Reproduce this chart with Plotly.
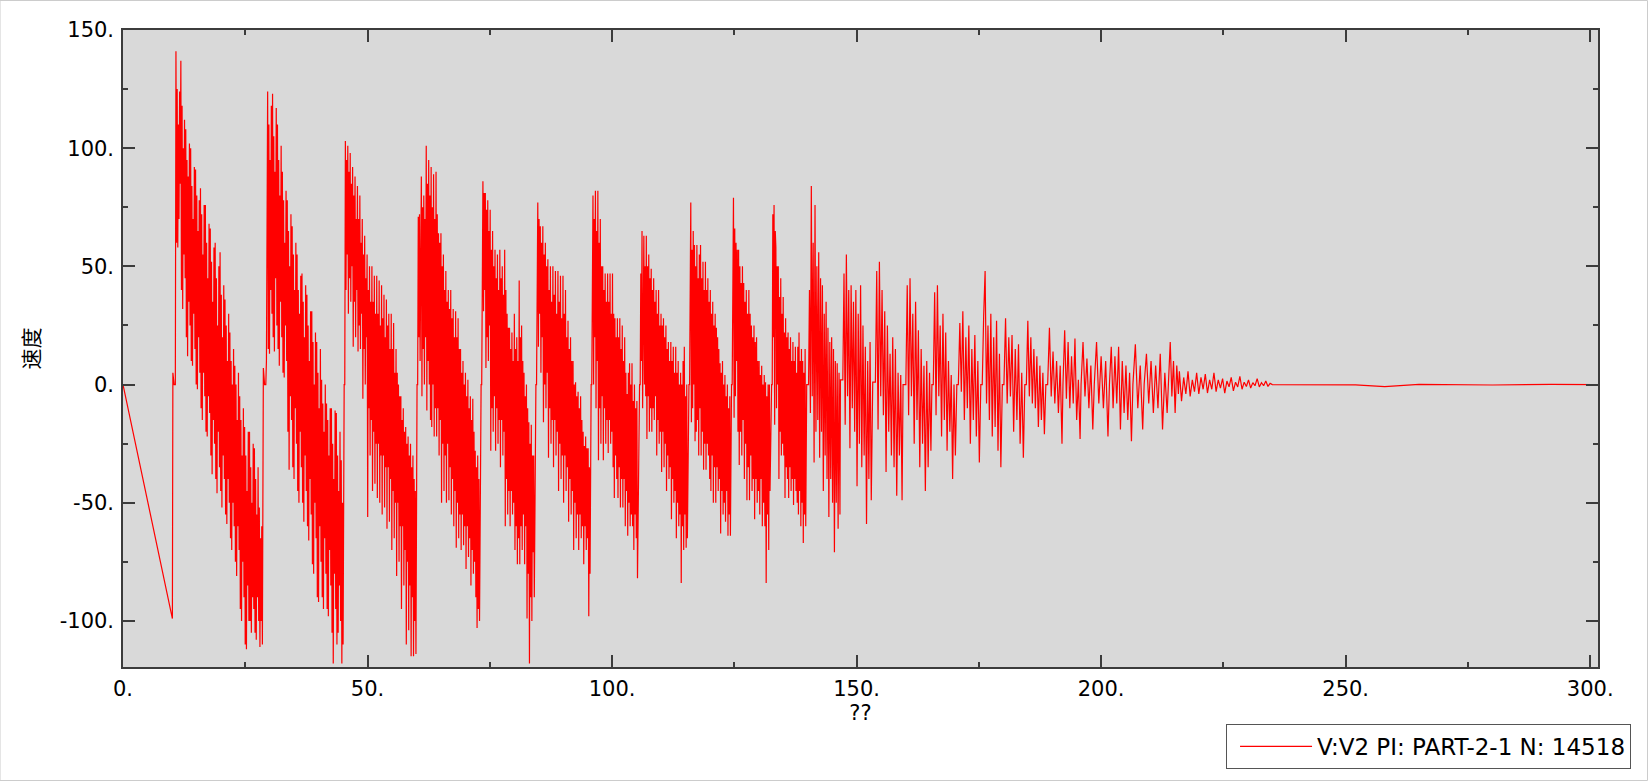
import numpy as np
import plotly.graph_objects as go

# ---------------- data ----------------
series_name = "V:V2 PI: PART-2-1 N: 14518"
x_title = "??"
y_title = "速度"

x_tick_vals = [0, 50, 100, 150, 200, 250, 300]
x_tick_text = ["0.", "50.", "100.", "150.", "200.", "250.", "300."]
y_tick_vals = [-100, -50, 0, 50, 100, 150]
y_tick_text = ["-100.", "-50.", "0.", "50.", "100.", "150."]

lead_t = [0.0, 10.1]
lead_v = [0.0, -99.0]

burst_start = [10.2, 28.7, 45.1, 60.0, 73.1, 84.3, 95.6, 105.5, 115.6, 124.3,
               132.5, 139.8, 146.7, 153.3, 159.5, 165.4, 170.5, 175.4, 179.8,
               184.4, 188.7, 192.2, 195.9, 198.6, 201.7, 206.5, 208.8, 213.8, 216.0]
burst_end = [28.5, 45.0, 59.9, 72.9, 84.1, 95.5, 105.2, 115.4, 124.2, 132.3,
             139.6, 146.6, 153.0, 159.3, 165.2, 170.2, 175.1, 179.5, 184.1,
             188.4, 192.0, 195.7, 198.3, 201.4, 206.2, 208.5, 213.5, 215.8, 235.0]

b01 = [5, 2, 0, 0, 0,
       141, 60, 125, 58, 110, 70, 124, 85,
       137, 40, 118, 32, 100, 55, 112, 45,
       108, 20, 95, 12, 88, 35, 102, 25,
       100, 10, 84, 8, 70, 30, 92, 15,
       91, 0, 80, -2, 65, 20, 78, 5,
       83, -10, 72, -15, 55, 5, 76, -5,
       76, -20, 60, -22, 45, -5, 68, -12,
       66, -30, 52, -38, 35, -15, 58, -25,
       60, -40, 45, -46, 25, -20, 50, -35,
       56, -45, 38, -52, 20, -30, 42, -40,
       36, -55, 25, -59, 10, -40, 30, -50,
       22, -65, 10, -70, 0, -50, 15, -60,
       8, -75, 0, -81, -15, -60, 5, -70,
       -5, -95, -15, -100, -30, -75, -10, -90,
       -18, -110, -30, -112, -45, -85, -20, -100,
       -20, -100, -35, -105, -50, -90, -25, -95,
       -27, -105, -40, -108, -55, -90, -35, -100,
       -52, -111, -65, -100, -60, -110]
b02 = [7, 1, 0, 0, 0, 10, 60,
       124, 15, 110, 13, 95, 40, 118, 30,
       123, 20, 105, 14, 90, 45, 117, 25,
       110, 15, 95, 8, 80, 35, 101, 20,
       90, 5, 78, 3, 60, 25, 82, 10,
       78, -20, 65, -36, 50, -5, 72, -15,
       67, -35, 55, -40, 40, -10, 60, -25,
       55, -45, 40, -50, 30, -20, 46, -35,
       47, -50, 35, -58, 20, -30, 42, -45,
       38, -60, 25, -66, 10, -40, 31, -55,
       31, -76, 18, -80, 0, -50, 22, -65,
       18, -90, 5, -92, -10, -60, 15, -75,
       2, -90, -8, -95, -20, -65, 0, -80,
       -8, -95, -15, -98, -30, -70, -10, -85,
       -10, -105, -25, -118, -40, -80, -11, -95,
       -12, -110, -30, -105, -45, -85, -20, -100,
       -32, -118, -50, -110]
b03 = [0, 0, 0,
       103, 40, 95, 55,
       101, 30, 90, 45, 98, 35, 85, 50,
       92, 16, 80, 35, 88, 20, 70, 40,
       84, 14, 70, 25, 80, 15, 60, 30,
       70, -6, 55, 15, 63, 0, 45, 20,
       55, -56, 40, -10, 50, -30, 35, -15,
       50, -45, 35, -20, 46, -42, 30, -25,
       46, -48, 30, -25, 44, -50, 25, -30,
       42, -55, 28, -30, 38, -52, 20, -35,
       36, -61, 25, -35, 30, -58, 15, -40,
       30, -70, 15, -45, 26, -65, 5, -50,
       15, -81, 5, -50, 0, -75, -5, -60,
       -5, -95, -15, -60, -10, -85, -20, -70,
       -18, -110, -25, -75, -22, -104, -30, -85,
       -25, -115, -35, -90, -30, -115, -40, -100,
       -45, -114]
b04 = [0, 0, 0, 71,
       20, 72, 10, 65,
       88, -5, 75, 15, 80, 0, 70, 20,
       101, -11, 85, 10, 95, 0, 80, -15,
       92, -18, 75, 0, 89, -22, 70, -10,
       90, -22, 72, -10, 64, -30, 60, -15,
       64, -50, 50, -25, 55, -45, 40, -30,
       48, -50, 35, -25, 40, -49, 32, -35,
       40, -55, 28, -40, 32, -60, 20, -45,
       31, -69, 20, -50, 28, -65, 15, -55,
       15, -70, 5, -55, 10, -68, 0, -60,
       5, -78, -5, -60, 2, -73, -10, -65,
       -5, -85, -15, -70, -6, -80, -20, -75,
       -28, -90, -35, -103, -30, -95, -40, -100]
b05 = [0, 0, 0, 71,
       86, 31, 81, 40,
       81, 7, 74, 20, 78, 10, 65, 25,
       74, -28, 57, -10, 65, -20, 50, -5,
       57, -28, 45, -10, 55, -25, 40, -15,
       57, -35, 45, -15, 50, -30, 38, -20,
       57, -60, 40, -40, 30, -55, 24, -45,
       24, -60, 15, -45, 22, -55, 10, -50,
       30, -70, 15, -60, 20, -76, 10, -65,
       44, -76, 20, -60, 25, -70, 10, -55,
       5, -76, -5, -60, 0, -99, -10, -80,
       -16, -118, -25, -90, -17, -100, -30, -71,
       -30, -90]
b06 = [0, 0, 0, 71,
       77, 16, 70, 30,
       67, 5, 60, 20,
       67, -16, 55, 0, 60, -10, 50, 5,
       53, -31, 40, -10, 50, -25, 35, -15,
       50, -35, 38, -15, 48, -30, 30, -20,
       48, -45, 35, -25, 46, -40, 28, -30,
       46, -50, 30, -30, 40, -45, 20, -35,
       27, -58, 15, -40, 20, -55, 10, -45,
       10, -70, 0, -50, 1, -65, -5, -55,
       -3, -70, -10, -55, -5, -65, -15, -60,
       -20, -76, -26, -60, -22, -70, -27, -65,
       -27, -98, -35, -80]
b07 = [0, 0, 0, 60,
       80, 0, 70, 20, 82, -10, 65, 10,
       82, -32, 60, -10, 70, -25, 50, -5,
       50, -32, 40, -10, 47, -25, 35, -15,
       47, -29, 35, -15, 47, -25, 30, -20,
       47, -35, 30, -48, 28, -30, 20, -40,
       28, -48, 20, -35, 28, -52, 15, -40,
       25, -52, 10, -40, 20, -60, 5, -45,
       -4, -64, 5, -50, 9, -60, 0, -55,
       9, -60, -7, -70, 0, -55, -10, -65,
       -7, -82]
b08 = [0, 0, 0, 47,
       10, 65, -10, 55, 63, 0, 50, -5,
       63, -23, 50, -5, 55, -20, 45, -10,
       49, -20, 40, -10, 45, -15, 35, -5,
       40, -30, 30, -15, 40, -25, 25, -20,
       30, -37, 25, -20, 28, -35, 20, -25,
       25, -45, 15, -30, 18, -40, 10, -35,
       18, -57, 10, -40, 16, -50, 5, -45,
       16, -65, 5, -50, 10, -60, 0, -55,
       5, -84, 0, -60, 10, -70, 16, -55,
       -5, -69, 0, -65]
b09 = [0, 0, 0, 50,
       77, -16, 57, -10, 65, 0, 59, -24,
       50, -20, 59, -15, 45, -30, 55, -10,
       59, -30, 45, -20, 52, -36, 40, -25,
       52, -36, 40, -25, 45, -30, 35, -40,
       40, -45, 30, -30, 35, -50, 25, -35,
       30, -50, 24, -35, 20, -45, 15, -40,
       9, -63, 5, -45, 10, -55, 0, -50,
       4, -58, -5, -45, 0, -64, -10, -55,
       -5, -64]
b10 = [0, 0, 0, 50,
       79, -14, 66, -5,
       60, 10, 57, -20,
       57, -34, 50, -20, 43, -30, 50, -15,
       43, -40, 35, -25, 40, -49, 30, -35,
       40, -49, 30, -30, 25, -45, 20, -40,
       25, -57, 18, -40, 20, -50, 10, -45,
       10, -55, 4, -40, 8, -60, 0, -50,
       4, -60, 1, -84, -5, -55, 0, -70,
       0, -45]
b11 = [0, 0, 0, 72,
       20, 76, -17, 65, 58, -10, 50, 0,
       50, -40, 37, -20, 45, -30, 30, -25,
       37, -30, 22, -48, 28, -35, 20, -40,
       22, -48, 15, -35, 20, -45, 10, -40,
       18, -51, 10, -40, 16, -45, 5, -50,
       16, -55, 22, -45, 10, -60, 15, -50,
       10, -67, 5, -55, 15, -60]
b12 = [0, 0, 0, 40, -12, 84, -5, 60, -33, 76, -20, 50, -15, 56, -31, 45, -20, 42,
       -45, 30, -30, 35, -40, 24, -56, 18, -40, 20, -50, 15, -71, 10, -50, 9, -61, 5, -55]
b13 = [2, 2, 2, 47, -17, 55, -5, 40, -27, 42, -10, 35, -20, 40, -43, 30, -25, 42, -35,
       25, -30, 16, -59, 10, -40, 18, -49]
b14 = [1, 1, 1, 48, -19, 52, -5, 40, -13, 31, -37, 25, -20, 13, -30, 20, -35, 15, -47,
       5, -30, 4, -49]
b15 = [0, 0, 0, 42, -13, 45, -5, 30, -25, 35, -15, 23, -35, 15, -25, 8, -45, 10, -35, 5, -28]
b16 = [0, 0, 39, -13, 42, -5, 25, -22, 30, -15, 22, -28, 10, -20, 4, -40, 0, -30]
b17 = [0, 0, 26, -3, 31, -15, 20, -10, 25, -25, 15, -15, 21, -22, 10, -33]
b18 = [0, 0, 29, 48, -8, 25, -15, 30, -22, 20, -18, 27, -28, 13, -35]
b19 = [0, 0, 28, -8, 20, -5, 21, -20, 15, -15, 17, -25, 5, -31]
b20 = [0, 0, 27, -5, 20, -8, 15, -10, 12, -18, 8, -15, 5, -21]
b21 = [0, 0, 24, -5, 14, -8, 10, -12, 8, -25]
b22 = [0, 23, -6, 18, -10, 12, -8, 19.5, -15, 2, -23]
b23 = [0, 18, -5, 11, -10, 8, -19]
b24 = [0, 18, -8, 12, -10, 10, -22]
b25 = [0, 16, -10, 12, -8, 16, -19, 10, -12, 8, -15, 5, -24]
b26 = [0, 17, -10, 8, -19]
b27 = [0, 13, -8, 10, -12, 8, -10, 13, -19, 5, -12]
b28 = [0, 18, -5, 10, -12, 8, -4]
b29 = [5.6, -7, 3, -4, 5.6, -5, 2, -3, 5, -4, 3, -2, 4.4, -3.6, 2, -2, 5, -3, 2, -1.5,
       2.5, -3.6, 1.5, -1, 3, -2.7, 1, -1, 3.5, -2, 1, -0.8, 2, -1.5, 0.8, -0.5, 2.5,
       -1, 0.8, -0.5, 1.5, -0.8, 0.5, 0]

tail_t = [235.5, 245.0, 252.0, 258.0, 265.0, 280.0, 292.0, 301.0]
tail_v = [0.0, 0.2, -0.1, -0.9, 0.1, -0.2, 0.1, 0.0]

burst_values = [b01, b02, b03, b04, b05, b06, b07, b08, b09, b10, b11, b12, b13, b14,
                b15, b16, b17, b18, b19, b20, b21, b22, b23, b24, b25, b26, b27, b28, b29]

# ---------------- assemble the series ----------------
t_all = list(lead_t)
v_all = list(lead_v)
for t0, t1, vals in zip(burst_start, burst_end, burst_values):
    t_all.extend(np.linspace(t0, t1, len(vals)).tolist())
    v_all.extend(vals)
t_all.extend(tail_t)
v_all.extend(tail_v)

FONT = "DejaVu Sans, Verdana, Noto Sans CJK SC, sans-serif"
AXIS_COL = "#3c3c3c"
FS = 21

fig = go.Figure()
fig.add_trace(go.Scatter(
    x=t_all, y=v_all, mode="lines", name=series_name,
    line=dict(color="#ff0000", width=1.2), showlegend=True,
))

axis_common = dict(
    showline=True, linecolor=AXIS_COL, linewidth=1.5, mirror="ticks",
    ticks="inside", ticklen=12, tickwidth=1.5, tickcolor=AXIS_COL,
    showgrid=False, zeroline=False,
    tickfont=dict(family=FONT, size=FS, color="#000000"),
)

fig.update_layout(
    width=1648, height=781,
    margin=dict(l=123, r=50, t=30, b=114),
    paper_bgcolor="#ffffff", plot_bgcolor="#d9d9d9",
    font=dict(family=FONT, size=FS, color="#000000"),
    xaxis=dict(
        range=[0, 301.6], tickvals=x_tick_vals, ticktext=x_tick_text,
        minor=dict(ticks="inside", ticklen=5, tickwidth=1.5, tickcolor=AXIS_COL, dtick=25, tick0=0),
        title=dict(text=x_title, font=dict(family=FONT, size=FS), standoff=3),
        ticklabelstandoff=2,
        **axis_common,
    ),
    yaxis=dict(
        range=[-119.5, 150], tickvals=y_tick_vals, ticktext=y_tick_text,
        minor=dict(ticks="inside", ticklen=5, tickwidth=1.5, tickcolor=AXIS_COL, dtick=25, tick0=0),
        title=dict(text=y_title, font=dict(family=FONT, size=FS), standoff=14),
        ticklabelstandoff=3,
        **axis_common,
    ),
    showlegend=True,
    legend=dict(
        x=1.0224, y=-0.0895, xanchor="right", yanchor="top",
        bgcolor="#ffffff", bordercolor="#555555", borderwidth=1,
        font=dict(family=FONT, size=23, color="#000000"),
        itemwidth=72, indentation=8,
    ),
    shapes=[dict(type="rect", xref="paper", yref="paper",
                 x0=-123 / 1475, x1=1647.5 / 1475 - 123 / 1475,
                 y0=-113.5 / 637, y1=1 + 29.5 / 637,
                 line=dict(color="#cccccc", width=1), fillcolor="rgba(0,0,0,0)", layer="below")],
)

fig.write_html("out.html", config={"displayModeBar": False},
               post_script="document.body.style.margin='0';document.body.style.overflow='hidden';")
